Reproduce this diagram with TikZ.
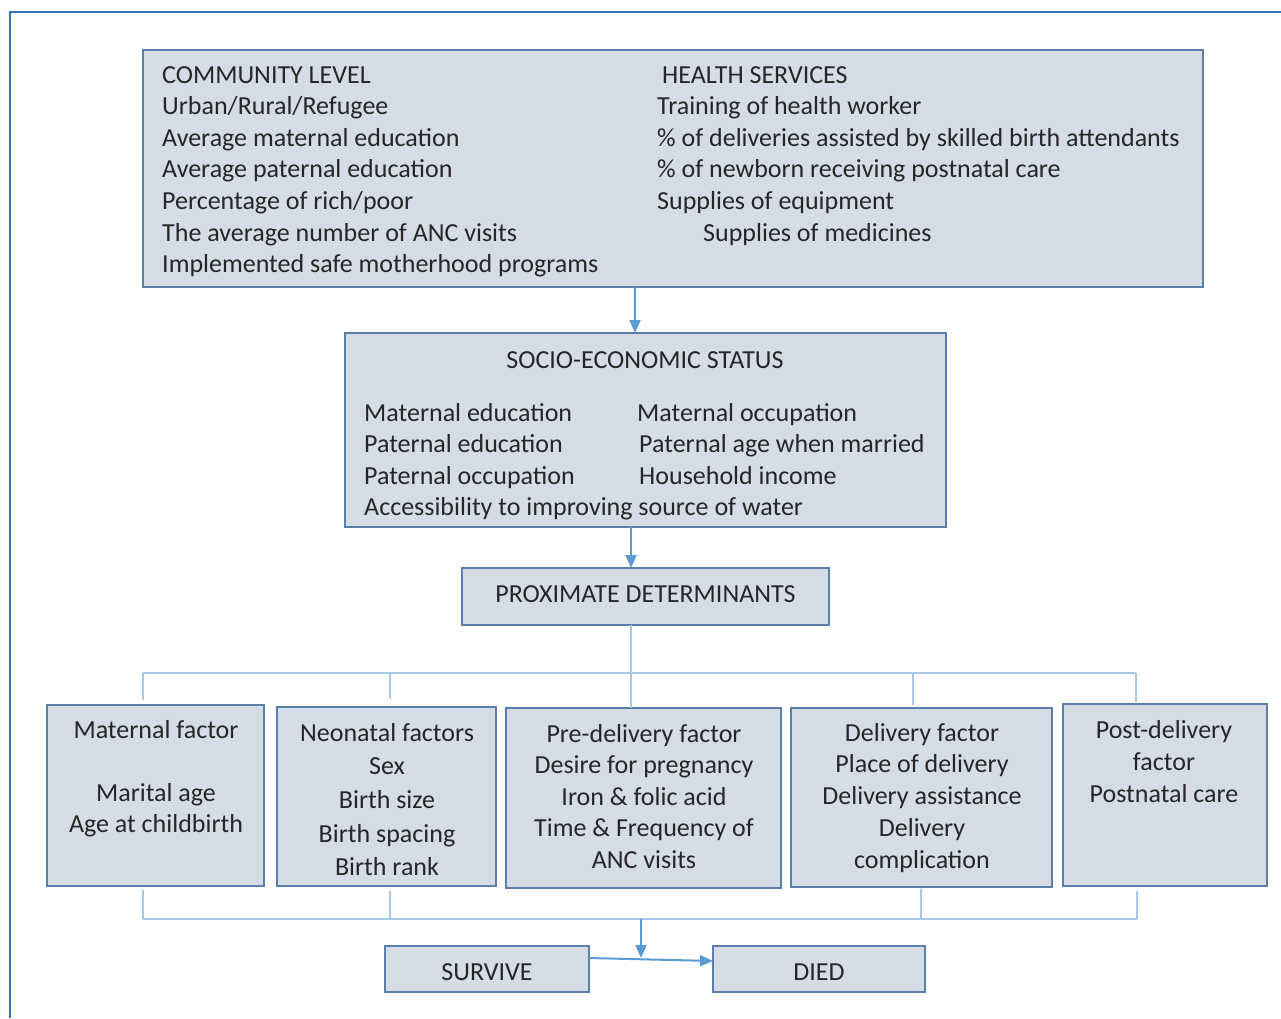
\documentclass[tikz,border=0pt]{standalone}
\usepackage{fontspec}
\setmainfont{Carlito}
\usetikzlibrary{arrows.meta}
\definecolor{boxfill}{HTML}{D6DCE5}
\definecolor{boxline}{HTML}{5A7FAA}
\definecolor{connline}{HTML}{A6C8E8}
\definecolor{arrline}{HTML}{5B9BD5}
\definecolor{frameline}{HTML}{2E75B6}
\definecolor{txt}{HTML}{262626}
\tikzset{
  box/.style={draw=boxline, line width=2pt, fill=boxfill, inner sep=0pt, outer sep=0pt, anchor=north west},
  txtnode/.style={inner sep=0pt, text=txt, font=\fontsize{26}{31.6}\selectfont},
  conn/.style={draw=connline, line width=1.3pt},
  arr/.style={draw=arrline, line width=2pt, -{Triangle[width=11pt,length=13pt]}},
}
\begin{document}
\begin{tikzpicture}[x=1pt,y=-1pt]
\useasboundingbox (0,0) rectangle (1281,1018);
% outer frame
\draw[frameline, line width=2pt] (10,1018) -- (10,12) -- (1281,12);

% boxes
\node[box, minimum width=1060pt, minimum height=237pt] (top) at (143,50) {};
\node[box, minimum width=601pt, minimum height=194pt] (ses) at (345,333) {};
\node[box, minimum width=367pt, minimum height=57pt] (prox) at (462,568) {};
\node[box, minimum width=217pt, minimum height=181pt] (mat) at (47,705) {};
\node[box, minimum width=219pt, minimum height=179pt] (neo) at (277,707) {};
\node[box, minimum width=275pt, minimum height=180pt] (pre) at (506,708) {};
\node[box, minimum width=261pt, minimum height=179pt] (del) at (791,708) {};
\node[box, minimum width=204pt, minimum height=182pt] (post) at (1063,704) {};
\node[box, minimum width=204pt, minimum height=46pt] (surv) at (385,946) {};
\node[box, minimum width=212pt, minimum height=46pt] (died) at (713,946) {};

% texts (anchor base = baseline of the last line)
\node[txtnode, anchor=base west, align=left] (toptl) at (162,272.6) {COMMUNITY LEVEL\\Urban/Rural/Refugee\\Average maternal education\\Average paternal education\\Percentage of rich/poor\\The average number of ANC visits\\Implemented safe motherhood programs};
\node[txtnode, anchor=base west, align=left] (toptr) at (657,241) {\hspace*{5pt}HEALTH SERVICES\\Training of health worker\\\% of deliveries assisted by skilled birth attendants\\\% of newborn receiving postnatal care\\Supplies of equipment\\\hspace*{46pt}Supplies of medicines};

\node[txtnode, anchor=base] (sest) at (645,368) {SOCIO-ECONOMIC STATUS};
\node[txtnode, anchor=base west, align=left] (sesl) at (364,515.8) {Maternal education\\Paternal education\\Paternal occupation\\Accessibility to improving source of water};
\node[txtnode, anchor=base west, align=left] (sesr) at (637,484.2) {Maternal occupation\\\hspace*{2pt}Paternal age when married\\\hspace*{2pt}Household income};

\node[txtnode, anchor=base] (proxt) at (645.5,602) {PROXIMATE DETERMINANTS};

\node[txtnode, anchor=base, align=center] (matt) at (156,832.8) {Maternal factor\\\mbox{}\\Marital age\\Age at childbirth};
\node[txtnode, anchor=base, align=center, font=\fontsize{26}{33.7}\selectfont] (neot) at (387,875.8) {Neonatal factors\\Sex\\Birth size\\Birth spacing\\Birth rank};
\node[txtnode, anchor=base, align=center] (pret) at (644,868.4) {Pre-delivery factor\\Desire for pregnancy\\Iron \& folic acid\\Time \& Frequency of\\ANC visits};
\node[txtnode, anchor=base, align=center, font=\fontsize{26}{31.8}\selectfont] (delt) at (922,868.2) {Delivery factor\\Place of delivery\\Delivery assistance\\Delivery\\complication};
\node[txtnode, anchor=base, align=center, font=\fontsize{26}{32}\selectfont] (postt) at (1164,802) {Post-delivery\\factor\\Postnatal care};

\node[txtnode, anchor=base] (survt) at (487,980) {SURVIVE};
\node[txtnode, anchor=base] (diedt) at (819,980) {DIED};

% helper coordinates
\coordinate (x635) at (635,0);
\coordinate (x631) at (631,0);
\coordinate (busL) at (143,673);
\coordinate (busR) at (1136,673);
\coordinate (x390) at (390,673);
\coordinate (x913) at (913,673);
\coordinate (bbL) at (143,919);
\coordinate (bbR) at (1137,919);
\coordinate (b390) at (390,919);
\coordinate (b921) at (921,919);
\coordinate (b641) at (641,919);
\coordinate (tip641) at (641,958);
\coordinate (y958) at (0,958);
\coordinate (y961) at (0,961);

% arrows between levels
\draw[arr] (top.south -| x635) -- (ses.north -| x635);
\draw[arr] (ses.south -| x631) -- (prox.north -| x631);

% top bus
\draw[conn] (busL) -- (busR);
\draw[conn] (prox.south -| x631) -- (pre.north -| x631);
\draw[conn, shorten >=5pt] (busL) -- (mat.north -| busL);
\draw[conn, shorten >=8pt] (x390) -- (neo.north -| x390);
\draw[conn, shorten >=3pt] (x913) -- (del.north -| x913);
\draw[conn, shorten >=2pt] (busR) -- (post.north -| busR);

% bottom bus
\draw[conn] (bbL) -- (bbR);
\draw[conn, shorten <=4pt] (mat.south -| bbL) -- (bbL);
\draw[conn, shorten <=5pt] (neo.south -| b390) -- (b390);
\draw[conn, shorten <=2pt] (del.south -| b921) -- (b921);
\draw[conn, shorten <=5pt] (post.south -| bbR) -- (bbR);

% outcome arrows
\draw[arr] (b641) -- (tip641);
\draw[arr] (surv.east |- y958) -- (died.west |- y961);
\end{tikzpicture}
\end{document}
